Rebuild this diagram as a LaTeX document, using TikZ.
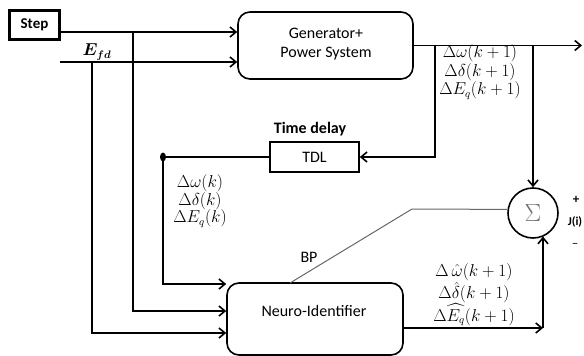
\documentclass[tikz,border=0pt]{standalone}
\usepackage{amsmath}
\usepackage{bm}
\usepackage{fontspec}
\setmainfont{Carlito}
\usetikzlibrary{arrows.meta,calc}
\begin{document}
\begin{tikzpicture}[x=1pt,y=-1pt,
  line width=1.6pt,
  >={Straight Barb[length=6pt,width=10pt]},
  rbox/.style={draw,rounded corners=12pt},
  sbox/.style={draw,align=center,font=\fontsize{16}{19}\selectfont},
  txt/.style={align=center,font=\fontsize{16}{19}\selectfont,inner sep=0pt},
  lab/.style={align=center,font=\fontsize{16}{18.5}\selectfont,inner sep=0pt},
  fb/.style={gray!80!black,line width=1pt}]
\useasboundingbox (0,0) rectangle (584,356);
% blocks
\node[draw,line width=3pt,minimum width=50pt,minimum height=29pt,font=\fontsize{15}{18}\selectfont\bfseries] (step) at (34.5,25) {Step};
\node[rbox,minimum width=175pt,minimum height=67pt] (gen) at (325.5,45.5) {};
\node[txt] (gentext) at (326,44.5) {Generator+\\Power System};
\node[sbox,minimum width=89pt,minimum height=30pt] (tdl) at (314.5,157) {TDL};
\node[txt,font=\fontsize{16}{19}\selectfont\bfseries] (tdlab) at (310,129) {Time delay};
\node[rbox,minimum width=176pt,minimum height=72pt] (neuro) at (315,319) {};
\node[txt] (neurotext) at (314,311) {Neuro-Identifier};
\node[draw,circle,minimum size=50pt,inner sep=0pt] (sum) at (533,213) {\textcolor{gray!90!black}{\fontsize{24}{24}\selectfont$\Sigma$}};
% coordinates
\coordinate (sy) at (0,32);
\coordinate (efd) at (60,62);
\coordinate (ya) at (0,284);
\coordinate (yb) at (0,311);
\coordinate (yc) at (0,333);
\coordinate (xs) at (133,0);
\coordinate (xe) at (92,0);
\coordinate (xo) at (435,0);
\coordinate (dot) at (163,157);
\coordinate (outend) at (582,45.5);
\coordinate (nc) at (543,328);
\coordinate (bpstart) at (290,283);
\coordinate (bend) at (412,209);
% connectors
\draw[->] (step.east |- sy) -- (gen.west |- sy);
\draw[->] (efd) -- (gen.west |- efd);
\draw[->] (xs |- sy) -- (xs |- yb) -- (neuro.west |- yb);
\draw[->] (xe |- efd) -- (xe |- yc) -- (neuro.west |- yc);
\draw[->] (gen.east) -- (outend);
\draw[->] (xo |- gen.east) -- (xo |- tdl.east) -- (tdl.east);
\draw[->] (tdl.west) -- (dot) -- (dot |- ya) -- (neuro.west |- ya);
\fill (dot) ellipse (3pt and 4.5pt);
\draw[->] (sum.north |- gen.east) -- (sum.north);
\draw[->] (neuro.east |- nc) -- (nc);
\draw[->] (nc) -- (nc |- sum.-66.4);
\draw[fb] (bpstart) -- (bend) -- (sum.172);
% labels
\node[lab] (efdl) at (97,52) {$\bm{E_{fd}}$};
\node[lab] (a) at (480,72) {$\Delta\omega(k+1)$\\$\Delta\delta(k+1)$\\$\Delta E_q(k+1)$};
\node[lab,font=\fontsize{16}{17.5}\selectfont] (b) at (200,201) {$\Delta\omega(k)$\\$\Delta\delta(k)$\\$\Delta E_q(k)$};
\node[lab] (c) at (474,295) {$\Delta\,\hat{\omega}(k+1)$\\$\Delta\hat{\delta}(k+1)$\\$\Delta\widehat{E_q}(k+1)$};
\node[txt] (bp) at (309,257) {BP};
\node[txt,font=\fontsize{13}{15}\selectfont\bfseries] (plus) at (576,200) {+};
\node[txt,font=\fontsize{12}{14}\selectfont\bfseries,anchor=west] (jl) at (567,222) {J(i)};
\node[txt,font=\fontsize{13}{15}\selectfont] (minus) at (575,245) {–};
\end{tikzpicture}
\end{document}
